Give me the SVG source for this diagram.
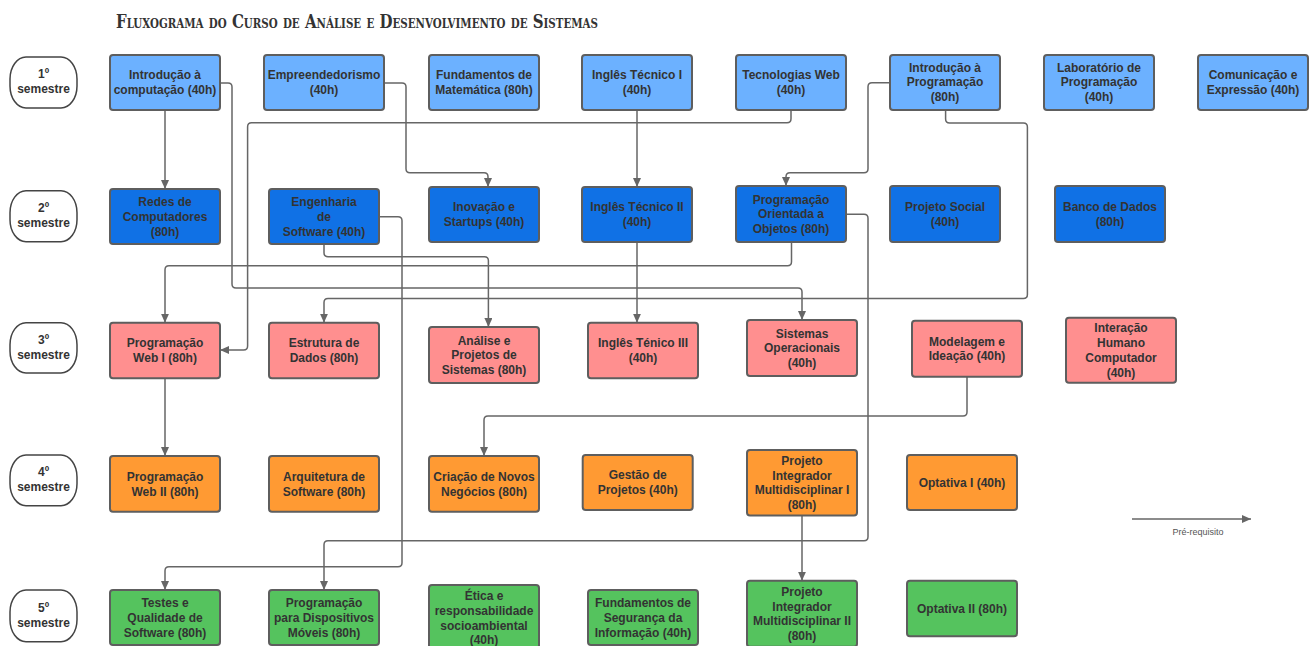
<svg xmlns="http://www.w3.org/2000/svg" width="1315" height="646" viewBox="0 0 1315 646">
<style>
.b{stroke:#5e5e5e;stroke-width:2}
.r1{fill:#6cb1ff}.r2{fill:#1071e5}.r3{fill:#ff8f8f}.r4{fill:#ff9a33}.r5{fill:#55c35e}
.t{font-family:"Liberation Sans",Arial,sans-serif;font-weight:bold;font-size:12px;fill:#333;text-anchor:middle}
.p{fill:#fff;stroke:#444;stroke-width:1.5}
.c{fill:none;stroke:#666;stroke-width:1.5}
</style>
<defs>
<marker id="ah" markerUnits="userSpaceOnUse" markerWidth="10" markerHeight="8" refX="9" refY="4" orient="auto">
<path d="M0,0 L9,4 L0,8 z" fill="#666"/>
</marker>
</defs>
<rect width="1315" height="646" fill="#fff"/>
<text x="116" y="28" textLength="482" lengthAdjust="spacingAndGlyphs" style="font-family:'DejaVu Serif Condensed','DejaVu Serif',serif;font-weight:bold;font-variant:small-caps;font-size:19px;fill:#333">Fluxograma do Curso de Análise e Desenvolvimento de Sistemas</text>

<g id="semesters">
<g id="sem1"><rect class="p" x="10" y="57" width="67" height="51" rx="16" ry="22"/><text class="t" x="43.5" y="78">1º</text><text class="t" x="43.5" y="93">semestre</text></g>
<g id="sem2"><rect class="p" x="10" y="190.7" width="67" height="51" rx="16" ry="22"/><text class="t" x="43.5" y="212">2º</text><text class="t" x="43.5" y="227">semestre</text></g>
<g id="sem3"><rect class="p" x="10" y="322.7" width="67" height="50.3" rx="16" ry="22"/><text class="t" x="43.5" y="343.6">3º</text><text class="t" x="43.5" y="358.6">semestre</text></g>
<g id="sem4"><rect class="p" x="10" y="455" width="67" height="50.7" rx="16" ry="22"/><text class="t" x="43.5" y="476">4º</text><text class="t" x="43.5" y="491">semestre</text></g>
<g id="sem5"><rect class="p" x="10" y="590" width="67" height="51.7" rx="16" ry="22"/><text class="t" x="43.5" y="611.6">5º</text><text class="t" x="43.5" y="626.6">semestre</text></g>
</g>

<g id="connectors">
<path class="c" marker-end="url(#ah)" d="M165,110 V189"/>
<path class="c" marker-end="url(#ah)" d="M220,83 H228 Q232,83 232,87 V284 Q232,288 236,288 H798 Q802,288 802,292 V320"/>
<path class="c" marker-end="url(#ah)" d="M384,83 H402 Q406,83 406,87 V168.7 Q406,172.7 410,172.7 H484 Q488,172.7 488,176.7 V187"/>
<path class="c" marker-end="url(#ah)" d="M637,110 V187"/>
<path class="c" marker-end="url(#ah)" d="M791,110 V118.7 Q791,122.7 787,122.7 H251.6 Q247.6,122.7 247.6,126.7 V346 Q247.6,350 243.6,350 H220"/>
<path class="c" marker-end="url(#ah)" d="M890,82.7 H872 Q868,82.7 868,86.7 V168.7 Q868,172.7 864,172.7 H790 Q786,172.7 786,176.7 V186"/>
<path class="c" marker-end="url(#ah)" d="M945.6,110 V119 Q945.6,123 949.6,123 H1023.4 Q1027.4,123 1027.4,127 V294.5 Q1027.4,298.5 1023.4,298.5 H328 Q324,298.5 324,302.5 V322.7"/>
<path class="c" marker-end="url(#ah)" d="M379,216.7 H398 Q402,216.7 402,220.7 V562.7 Q402,566.7 398,566.7 H169 Q165,566.7 165,570.7 V590"/>
<path class="c" marker-end="url(#ah)" d="M324,244 V252.7 Q324,256.7 328,256.7 H484.4 Q488.4,256.7 488.4,260.7 V327"/>
<path class="c" marker-end="url(#ah)" d="M791.5,242 V261.7 Q791.5,265.7 787.5,265.7 H169 Q165,265.7 165,269.7 V322.7"/>
<path class="c" marker-end="url(#ah)" d="M846,214.3 H864 Q868,214.3 868,218.3 V536.7 Q868,540.7 864,540.7 H328 Q324,540.7 324,544.7 V590"/>
<path class="c" marker-end="url(#ah)" d="M637,242 V322.7"/>
<path class="c" marker-end="url(#ah)" d="M967,376.7 V412 Q967,416 963,416 H488 Q484,416 484,420 V456"/>
<path class="c" marker-end="url(#ah)" d="M165,378 V456"/>
<path class="c" marker-end="url(#ah)" d="M802,515 V580.7"/>
<path class="c" marker-end="url(#ah)" d="M1132,519 H1251"/>
</g>
<text x="1198" y="535" style="font-family:'Liberation Sans',Arial,sans-serif;font-size:9px;fill:#555;text-anchor:middle">Pré-requisito</text>

<g id="n1_1"><rect class="b r1" x="110" y="55" width="110" height="55" rx="3"/><text class="t" x="165" y="79.45">Introdução à</text><text class="t" x="165" y="94.15">computação (40h)</text></g>
<g id="n1_2"><rect class="b r1" x="264" y="55" width="120" height="55" rx="3"/><text class="t" x="324" y="79.45">Empreendedorismo</text><text class="t" x="324" y="94.15">(40h)</text></g>
<g id="n1_3"><rect class="b r1" x="429" y="55" width="110" height="55" rx="3"/><text class="t" x="484" y="79.45">Fundamentos de</text><text class="t" x="484" y="94.15">Matemática (80h)</text></g>
<g id="n1_4"><rect class="b r1" x="582" y="55" width="110" height="55" rx="3"/><text class="t" x="637" y="79.45">Inglês Técnico I</text><text class="t" x="637" y="94.15">(40h)</text></g>
<g id="n1_5"><rect class="b r1" x="736" y="55" width="110" height="55" rx="3"/><text class="t" x="791" y="79.45">Tecnologias Web</text><text class="t" x="791" y="94.15">(40h)</text></g>
<g id="n1_6"><rect class="b r1" x="890" y="55" width="110" height="55" rx="3"/><text class="t" x="945" y="71.5">Introdução à</text><text class="t" x="945" y="86.2">Programação</text><text class="t" x="945" y="100.9">(80h)</text></g>
<g id="n1_7"><rect class="b r1" x="1044" y="55" width="110" height="55" rx="3"/><text class="t" x="1099" y="71.5">Laboratório de</text><text class="t" x="1099" y="86.2">Programação</text><text class="t" x="1099" y="100.9">(40h)</text></g>
<g id="n1_8"><rect class="b r1" x="1198" y="55" width="110" height="55" rx="3"/><text class="t" x="1253" y="79.45">Comunicação e</text><text class="t" x="1253" y="94.15">Expressão (40h)</text></g>

<g id="n2_1"><rect class="b r2" x="110" y="189" width="110" height="55" rx="3"/><text class="t" x="165" y="206.1">Redes de</text><text class="t" x="165" y="220.8">Computadores</text><text class="t" x="165" y="235.5">(80h)</text></g>
<g id="n2_2"><rect class="b r2" x="269" y="189" width="110" height="55" rx="3"/><text class="t" x="324" y="206.1">Engenharia</text><text class="t" x="324" y="220.8">de</text><text class="t" x="324" y="235.5">Software (40h)</text></g>
<g id="n2_3"><rect class="b r2" x="429" y="187" width="110" height="55" rx="3"/><text class="t" x="484" y="211.45">Inovação e</text><text class="t" x="484" y="226.15">Startups (40h)</text></g>
<g id="n2_4"><rect class="b r2" x="582" y="187" width="110" height="55" rx="3"/><text class="t" x="637" y="211.45">Inglês Técnico II</text><text class="t" x="637" y="226.15">(40h)</text></g>
<g id="n2_5"><rect class="b r2" x="736" y="186" width="110" height="56" rx="3"/><text class="t" x="791" y="203.6">Programação</text><text class="t" x="791" y="218.3">Orientada a</text><text class="t" x="791" y="233">Objetos (80h)</text></g>
<g id="n2_6"><rect class="b r2" x="890" y="186" width="110" height="56" rx="3"/><text class="t" x="945" y="210.95">Projeto Social</text><text class="t" x="945" y="225.65">(40h)</text></g>
<g id="n2_7"><rect class="b r2" x="1055" y="186" width="110" height="56" rx="3"/><text class="t" x="1110" y="210.95">Banco de Dados</text><text class="t" x="1110" y="225.65">(80h)</text></g>

<g id="n3_1"><rect class="b r3" x="110" y="322.7" width="110" height="55.6" rx="3"/><text class="t" x="165" y="347.45">Programação</text><text class="t" x="165" y="362.15">Web I (80h)</text></g>
<g id="n3_2"><rect class="b r3" x="269" y="322.7" width="110" height="55.6" rx="3"/><text class="t" x="324" y="347.45">Estrutura de</text><text class="t" x="324" y="362.15">Dados (80h)</text></g>
<g id="n3_3"><rect class="b r3" x="429" y="327" width="110" height="56" rx="3"/><text class="t" x="484" y="344.6">Análise e</text><text class="t" x="484" y="359.3">Projetos de</text><text class="t" x="484" y="374">Sistemas (80h)</text></g>
<g id="n3_4"><rect class="b r3" x="588" y="322.7" width="110" height="55.6" rx="3"/><text class="t" x="643" y="347.45">Inglês Ténico III</text><text class="t" x="643" y="362.15">(40h)</text></g>
<g id="n3_5"><rect class="b r3" x="747" y="320" width="110" height="56" rx="3"/><text class="t" x="802" y="337.6">Sistemas</text><text class="t" x="802" y="352.3">Operacionais</text><text class="t" x="802" y="367">(40h)</text></g>
<g id="n3_6"><rect class="b r3" x="912" y="320.7" width="110" height="56" rx="3"/><text class="t" x="967" y="345.65">Modelagem e</text><text class="t" x="967" y="360.35">Ideação (40h)</text></g>
<g id="n3_7"><rect class="b r3" x="1066" y="317.7" width="110" height="65" rx="3"/><text class="t" x="1121" y="332.45">Interação</text><text class="t" x="1121" y="347.15">Humano</text><text class="t" x="1121" y="361.85">Computador</text><text class="t" x="1121" y="376.55">(40h)</text></g>

<g id="n4_1"><rect class="b r4" x="110" y="456" width="110" height="55.7" rx="3"/><text class="t" x="165" y="480.8">Programação</text><text class="t" x="165" y="495.5">Web II (80h)</text></g>
<g id="n4_2"><rect class="b r4" x="269" y="456" width="110" height="55.7" rx="3"/><text class="t" x="324" y="480.8">Arquitetura de</text><text class="t" x="324" y="495.5">Software (80h)</text></g>
<g id="n4_3"><rect class="b r4" x="429" y="456" width="110" height="55.7" rx="3"/><text class="t" x="484" y="480.8">Criação de Novos</text><text class="t" x="484" y="495.5">Negócios (80h)</text></g>
<g id="n4_4"><rect class="b r4" x="582.7" y="455" width="110" height="55" rx="3"/><text class="t" x="637.7" y="479.45">Gestão de</text><text class="t" x="637.7" y="494.15">Projetos (40h)</text></g>
<g id="n4_5"><rect class="b r4" x="747" y="450" width="110" height="65.5" rx="3"/><text class="t" x="802" y="465">Projeto</text><text class="t" x="802" y="479.7">Integrador</text><text class="t" x="802" y="494.4">Multidisciplinar I</text><text class="t" x="802" y="509.1">(80h)</text></g>
<g id="n4_6"><rect class="b r4" x="907" y="455" width="110" height="55" rx="3"/><text class="t" x="962" y="486.8">Optativa I (40h)</text></g>

<g id="n5_1"><rect class="b r5" x="110" y="590" width="110" height="55" rx="3"/><text class="t" x="165" y="607.1">Testes e</text><text class="t" x="165" y="621.8">Qualidade de</text><text class="t" x="165" y="636.5">Software (80h)</text></g>
<g id="n5_2"><rect class="b r5" x="269" y="590" width="110" height="55" rx="3"/><text class="t" x="324" y="607.1">Programação</text><text class="t" x="324" y="621.8">para Dispositivos</text><text class="t" x="324" y="636.5">Móveis (80h)</text></g>
<g id="n5_3"><rect class="b r5" x="429" y="585" width="110" height="66" rx="3"/><text class="t" x="484" y="600.25">Ética e</text><text class="t" x="484" y="614.95">responsabilidade</text><text class="t" x="484" y="629.65">socioambiental</text><text class="t" x="484" y="644.35">(40h)</text></g>
<g id="n5_4"><rect class="b r5" x="588" y="590" width="110" height="55" rx="3"/><text class="t" x="643" y="607.1">Fundamentos de</text><text class="t" x="643" y="621.8">Segurança da</text><text class="t" x="643" y="636.5">Informação (40h)</text></g>
<g id="n5_5"><rect class="b r5" x="747" y="580.7" width="110" height="66" rx="3"/><text class="t" x="802" y="595.95">Projeto</text><text class="t" x="802" y="610.65">Integrador</text><text class="t" x="802" y="625.35">Multidisciplinar II</text><text class="t" x="802" y="640.05">(80h)</text></g>
<g id="n5_6"><rect class="b r5" x="907" y="580.7" width="110" height="55.5" rx="3"/><text class="t" x="962" y="612.75">Optativa II (80h)</text></g>
</svg>
